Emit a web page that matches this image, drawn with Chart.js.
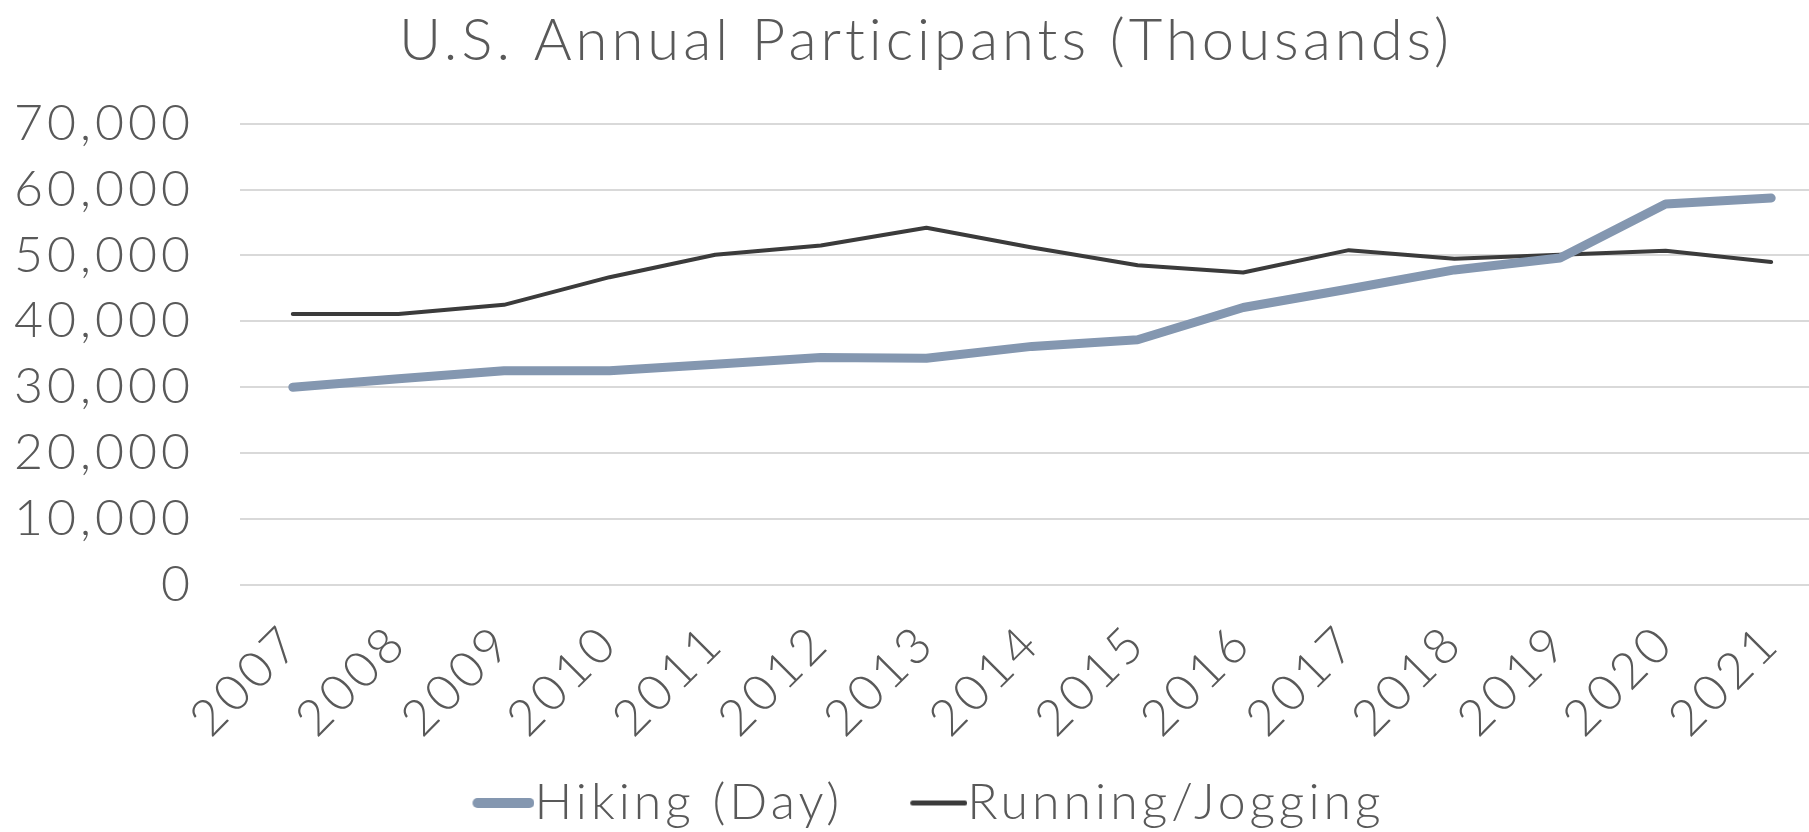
<!DOCTYPE html>
<html>
<head>
<meta charset="utf-8">
<script src="https://cdn.jsdelivr.net/npm/chart.js@4.4.0/dist/chart.umd.min.js"></script>
<style>
  html, body { margin: 0; padding: 0; background: #fff; overflow: hidden; }
  #wrap { width: 1852px; height: 832px; }
</style>
</head>
<body>
<div id="wrap"><canvas id="chart" width="1852" height="832"></canvas></div>
<script>
// values
var years = ['2007', '2008', '2009', '2010', '2011', '2012', '2013', '2014',
             '2015', '2016', '2017', '2018', '2019', '2020', '2021'];
var hiking = [30000, 31300, 32500, 32500, 33500, 34500, 34400, 36200,
              37200, 42100, 44900, 47800, 49600, 57800, 58700];
var running = [41100, 41100, 42500, 46700, 50100, 51500, 54200, 51200,
               48500, 47400, 50800, 49500, 50100, 50700, 49000];
var yTicks = [0, 10000, 20000, 30000, 40000, 50000, 60000, 70000];

var textColor = '#595959';
var fontFamily = 'Lato, "Noto Sans", sans-serif';

// legend marker: a round-capped line drawn at the right end of a wider image
function legend_mark(color, lineLen, thick) {
    var c = document.createElement('canvas');
    c.width = 120;
    c.height = thick + 2;
    var ctx = c.getContext('2d');
    ctx.strokeStyle = color;
    ctx.lineWidth = thick;
    ctx.lineCap = 'round';
    ctx.beginPath();
    ctx.moveTo(c.width - lineLen + thick / 2, c.height / 2);
    ctx.lineTo(c.width - thick / 2, c.height / 2);
    ctx.stroke();
    return c;
}

// the original font is wider, so spread the letters a bit
var spacing = {
    id: 'spacing',
    afterInit: function(chart) { chart.ctx.letterSpacing = '4px'; },
    beforeUpdate: function(chart) { chart.ctx.letterSpacing = '4px'; },
    beforeDraw: function(chart) { chart.ctx.letterSpacing = '4px'; },
    afterLayout: function(chart) {
        // title is centred on the whole (cropped) picture, not on the padded box
        chart.titleBlock.left += 14;
        chart.titleBlock.right += 14;
    }
};

var ctx = document.getElementById('chart');

var myChart = new Chart(ctx, {
    type: 'line',
    data: {
        labels: years,
        datasets: [{
            label: 'Hiking (Day)',
            data: hiking,
            borderColor: '#8497B0',
            backgroundColor: '#8497B0',
            borderWidth: 9,
            borderCapStyle: 'round',
            borderJoinStyle: 'round',
            pointRadius: 0,
            pointStyle: legend_mark('#8497B0', 62, 10),
            tension: 0
        }, {
            label: 'Running/Jogging',
            data: running,
            borderColor: '#3B3B3B',
            backgroundColor: '#3B3B3B',
            borderWidth: 4,
            borderCapStyle: 'round',
            borderJoinStyle: 'round',
            pointRadius: 0,
            pointStyle: legend_mark('#3B3B3B', 57, 5),
            tension: 0
        }]
    },
    plugins: [spacing],
    options: {
        responsive: false,
        animation: false,
        layout: { padding: { top: 0, right: 28, bottom: -6, left: 0 } },
        plugins: {
            title: {
                display: true,
                text: 'U.S. Annual Participants (Thousands)',
                color: textColor,
                font: { family: fontFamily, size: 58, weight: 300 },
                padding: { top: 6, bottom: 48 }
            },
            legend: {
                position: 'bottom',
                labels: {
                    usePointStyle: true,
                    pointStyleWidth: 70,
                    boxHeight: 10,
                    padding: 29,
                    color: textColor,
                    font: { family: fontFamily, size: 50, weight: 300 }
                }
            },
            tooltip: { enabled: false }
        },
        scales: {
            x: {
                offset: true,
                afterFit: function(scale) {
                    scale.height = 164;
                },
                grid: { display: false },
                border: { display: false },
                ticks: {
                    autoSkip: false,
                    maxRotation: 45,
                    minRotation: 45,
                    padding: 20,
                    color: textColor,
                    font: { family: fontFamily, size: 50, weight: 300 }
                }
            },
            y: {
                min: 0,
                max: 70000,
                afterBuildTicks: function(scale) {
                    scale.ticks = yTicks.map(function(v) { return { value: v }; });
                },
                afterFit: function(scale) {
                    scale.width = 240;
                },
                grid: { color: '#D9D9D9', lineWidth: 2, drawTicks: false },
                border: { display: false },
                ticks: {
                    padding: 46,
                    color: textColor,
                    font: { family: fontFamily, size: 50, weight: 300 },
                    callback: function(v) { return v.toLocaleString('en-US'); }
                }
            }
        }
    }
});
</script>
</body>
</html>
